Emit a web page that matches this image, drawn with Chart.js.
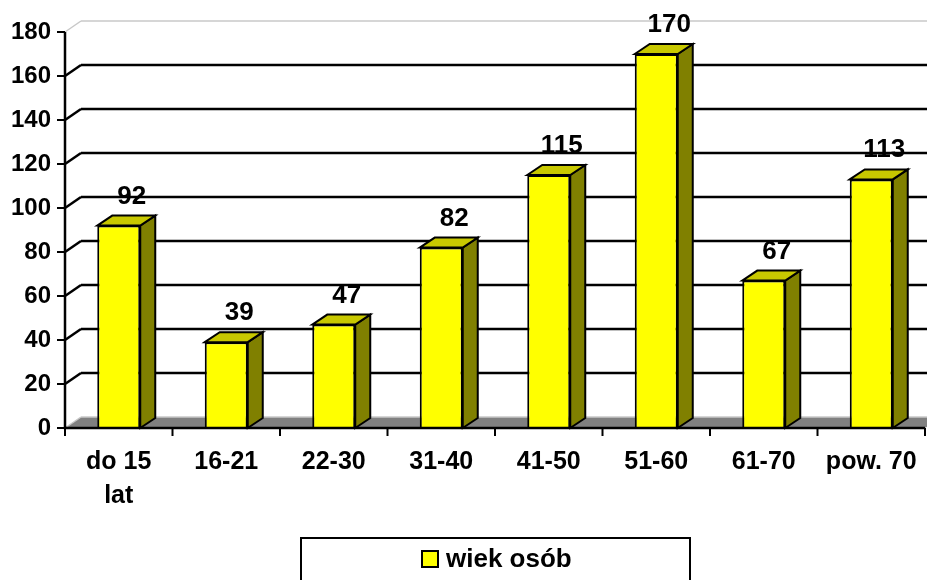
<!DOCTYPE html>
<html>
<head>
<meta charset="utf-8">
<script src="https://cdn.jsdelivr.net/npm/chart.js@4.4.1/dist/chart.umd.min.js"></script>
<style>
html,body{margin:0;padding:0;background:#fff;}
#wrap{width:927px;height:580px;position:relative;}
</style>
</head>
<body>
<div id="wrap"><canvas id="c"></canvas></div>
<script>
const categories = [['do 15','lat'], '16-21', '22-30', '31-40', '41-50', '51-60', '61-70', 'pow. 70'];
const seriesName = 'wiek osób';
const values = [92, 39, 47, 82, 115, 170, 67, 113];
const yMin = 0, yMax = 180, yStep = 20;

const FONT = '"Liberation Sans", Arial, sans-serif';
const WALL_DX = 16, WALL_DY = 11;
const BAR_DX = 15, BAR_DY = 10;

const threeD = {
  id: 'threeD',
  beforeDatasetsDraw(chart) {
    const ctx = chart.ctx, a = chart.chartArea, y = chart.scales.y;
    ctx.save();
    const y0 = y.getPixelForValue(0);
    ctx.fillStyle = '#808080';
    ctx.beginPath();
    ctx.moveTo(a.left, y0);
    ctx.lineTo(a.right, y0);
    ctx.lineTo(a.right + WALL_DX, y0 - WALL_DY);
    ctx.lineTo(a.left + WALL_DX, y0 - WALL_DY);
    ctx.closePath();
    ctx.fill();
    ctx.strokeStyle = '#c8c8c8';
    ctx.lineWidth = 1.5;
    ctx.beginPath();
    ctx.moveTo(a.left + WALL_DX, y0 - WALL_DY);
    ctx.lineTo(a.right + WALL_DX, y0 - WALL_DY);
    ctx.stroke();
    for (let v = yMin + yStep; v <= yMax; v += yStep) {
      const py = y.getPixelForValue(v);
      const top = v === yMax;
      ctx.strokeStyle = top ? '#c8c8c8' : '#000';
      ctx.lineWidth = top ? 1.5 : 2.5;
      ctx.beginPath();
      ctx.moveTo(a.left + WALL_DX, py - WALL_DY);
      ctx.lineTo(a.right + WALL_DX, py - WALL_DY);
      ctx.stroke();
      ctx.beginPath();
      ctx.moveTo(a.left, py);
      ctx.lineTo(a.left + WALL_DX, py - WALL_DY);
      ctx.stroke();
    }
    ctx.strokeStyle = '#c8c8c8';
    ctx.lineWidth = 1.5;
    ctx.beginPath();
    ctx.moveTo(a.left, y0);
    ctx.lineTo(a.left + WALL_DX, y0 - WALL_DY);
    ctx.stroke();
    ctx.restore();
  },
  afterDatasetsDraw(chart) {
    const ctx = chart.ctx, a = chart.chartArea, ys = chart.scales.y;
    const meta = chart.getDatasetMeta(0);
    ctx.save();
    ctx.lineJoin = 'miter';
    meta.data.forEach((bar, i) => {
      const l = bar.x - bar.width / 2, r = bar.x + bar.width / 2, t = bar.y, b = bar.base;
      ctx.strokeStyle = '#000';
      ctx.lineWidth = 2;
      ctx.fillStyle = '#808000';
      ctx.beginPath();
      ctx.moveTo(r, t); ctx.lineTo(r + BAR_DX, t - BAR_DY); ctx.lineTo(r + BAR_DX, b - BAR_DY); ctx.lineTo(r, b);
      ctx.closePath(); ctx.fill(); ctx.stroke();
      ctx.fillStyle = '#c8c800';
      ctx.beginPath();
      ctx.moveTo(l, t); ctx.lineTo(l + BAR_DX, t - BAR_DY); ctx.lineTo(r + BAR_DX, t - BAR_DY); ctx.lineTo(r, t);
      ctx.closePath(); ctx.fill(); ctx.stroke();
      ctx.fillStyle = '#000';
      ctx.font = 'bold 26px ' + FONT;
      ctx.textAlign = 'center';
      ctx.textBaseline = 'alphabetic';
      ctx.fillText(String(values[i]), bar.x + 13, t - BAR_DY - 12);
    });
    const y0 = ys.getPixelForValue(0);
    ctx.strokeStyle = '#000';
    ctx.lineWidth = 2.5;
    ctx.beginPath();
    ctx.moveTo(a.left, ys.getPixelForValue(yMax));
    ctx.lineTo(a.left, y0);
    ctx.lineTo(a.right, y0);
    ctx.stroke();
    ctx.lineWidth = 2;
    for (let v = yMin; v <= yMax; v += yStep) {
      const py = ys.getPixelForValue(v);
      ctx.beginPath(); ctx.moveTo(a.left - 8, py); ctx.lineTo(a.left, py); ctx.stroke();
    }
    const n = categories.length;
    for (let i = 0; i <= n; i++) {
      const px = a.left + (a.right - a.left) * i / n;
      ctx.beginPath(); ctx.moveTo(px, y0); ctx.lineTo(px, y0 + 8); ctx.stroke();
    }
    ctx.restore();
  },
  afterDraw(chart) {
    const ctx = chart.ctx;
    ctx.save();
    ctx.strokeStyle = '#000';
    ctx.lineWidth = 2;
    ctx.strokeRect(301, 538, 389, 70);
    ctx.fillStyle = '#ffff00';
    ctx.fillRect(422, 551, 16, 16);
    ctx.strokeRect(422, 551, 16, 16);
    ctx.fillStyle = '#000';
    ctx.font = 'bold 26px ' + FONT;
    ctx.textAlign = 'left';
    ctx.textBaseline = 'middle';
    ctx.fillText(chart.data.datasets[0].label, 446, 560);
    ctx.restore();
  }
};

new Chart(document.getElementById('c'), {
  type: 'bar',
  data: {
    labels: categories,
    datasets: [{
      label: seriesName,
      data: values,
      backgroundColor: '#ffff00',
      borderColor: '#000',
      borderWidth: 2,
      barPercentage: 0.4,
      categoryPercentage: 1.0
    }]
  },
  options: {
    responsive: true,
    maintainAspectRatio: false,
    animation: false,
    layout: { padding: { top: 32, right: 2, left: 0, bottom: 0 } },
    plugins: { legend: { display: false }, tooltip: { enabled: false } },
    scales: {
      x: {
        offset: true,
        grid: { display: false },
        border: { display: false },
        ticks: {
          color: '#000',
          font: { family: FONT, size: 25, weight: 'bold', lineHeight: 1.36 },
          maxRotation: 0, minRotation: 0, autoSkip: false, padding: 9
        },
        afterFit(s) { s.height = 152; }
      },
      y: {
        min: yMin, max: yMax,
        grid: { display: false },
        border: { display: false },
        ticks: {
          stepSize: yStep,
          color: '#000',
          font: { family: FONT, size: 24, weight: 'bold' },
          padding: 6
        },
        afterFit(s) { s.width = 65; }
      }
    }
  },
  plugins: [threeD]
});
</script>
</body>
</html>
